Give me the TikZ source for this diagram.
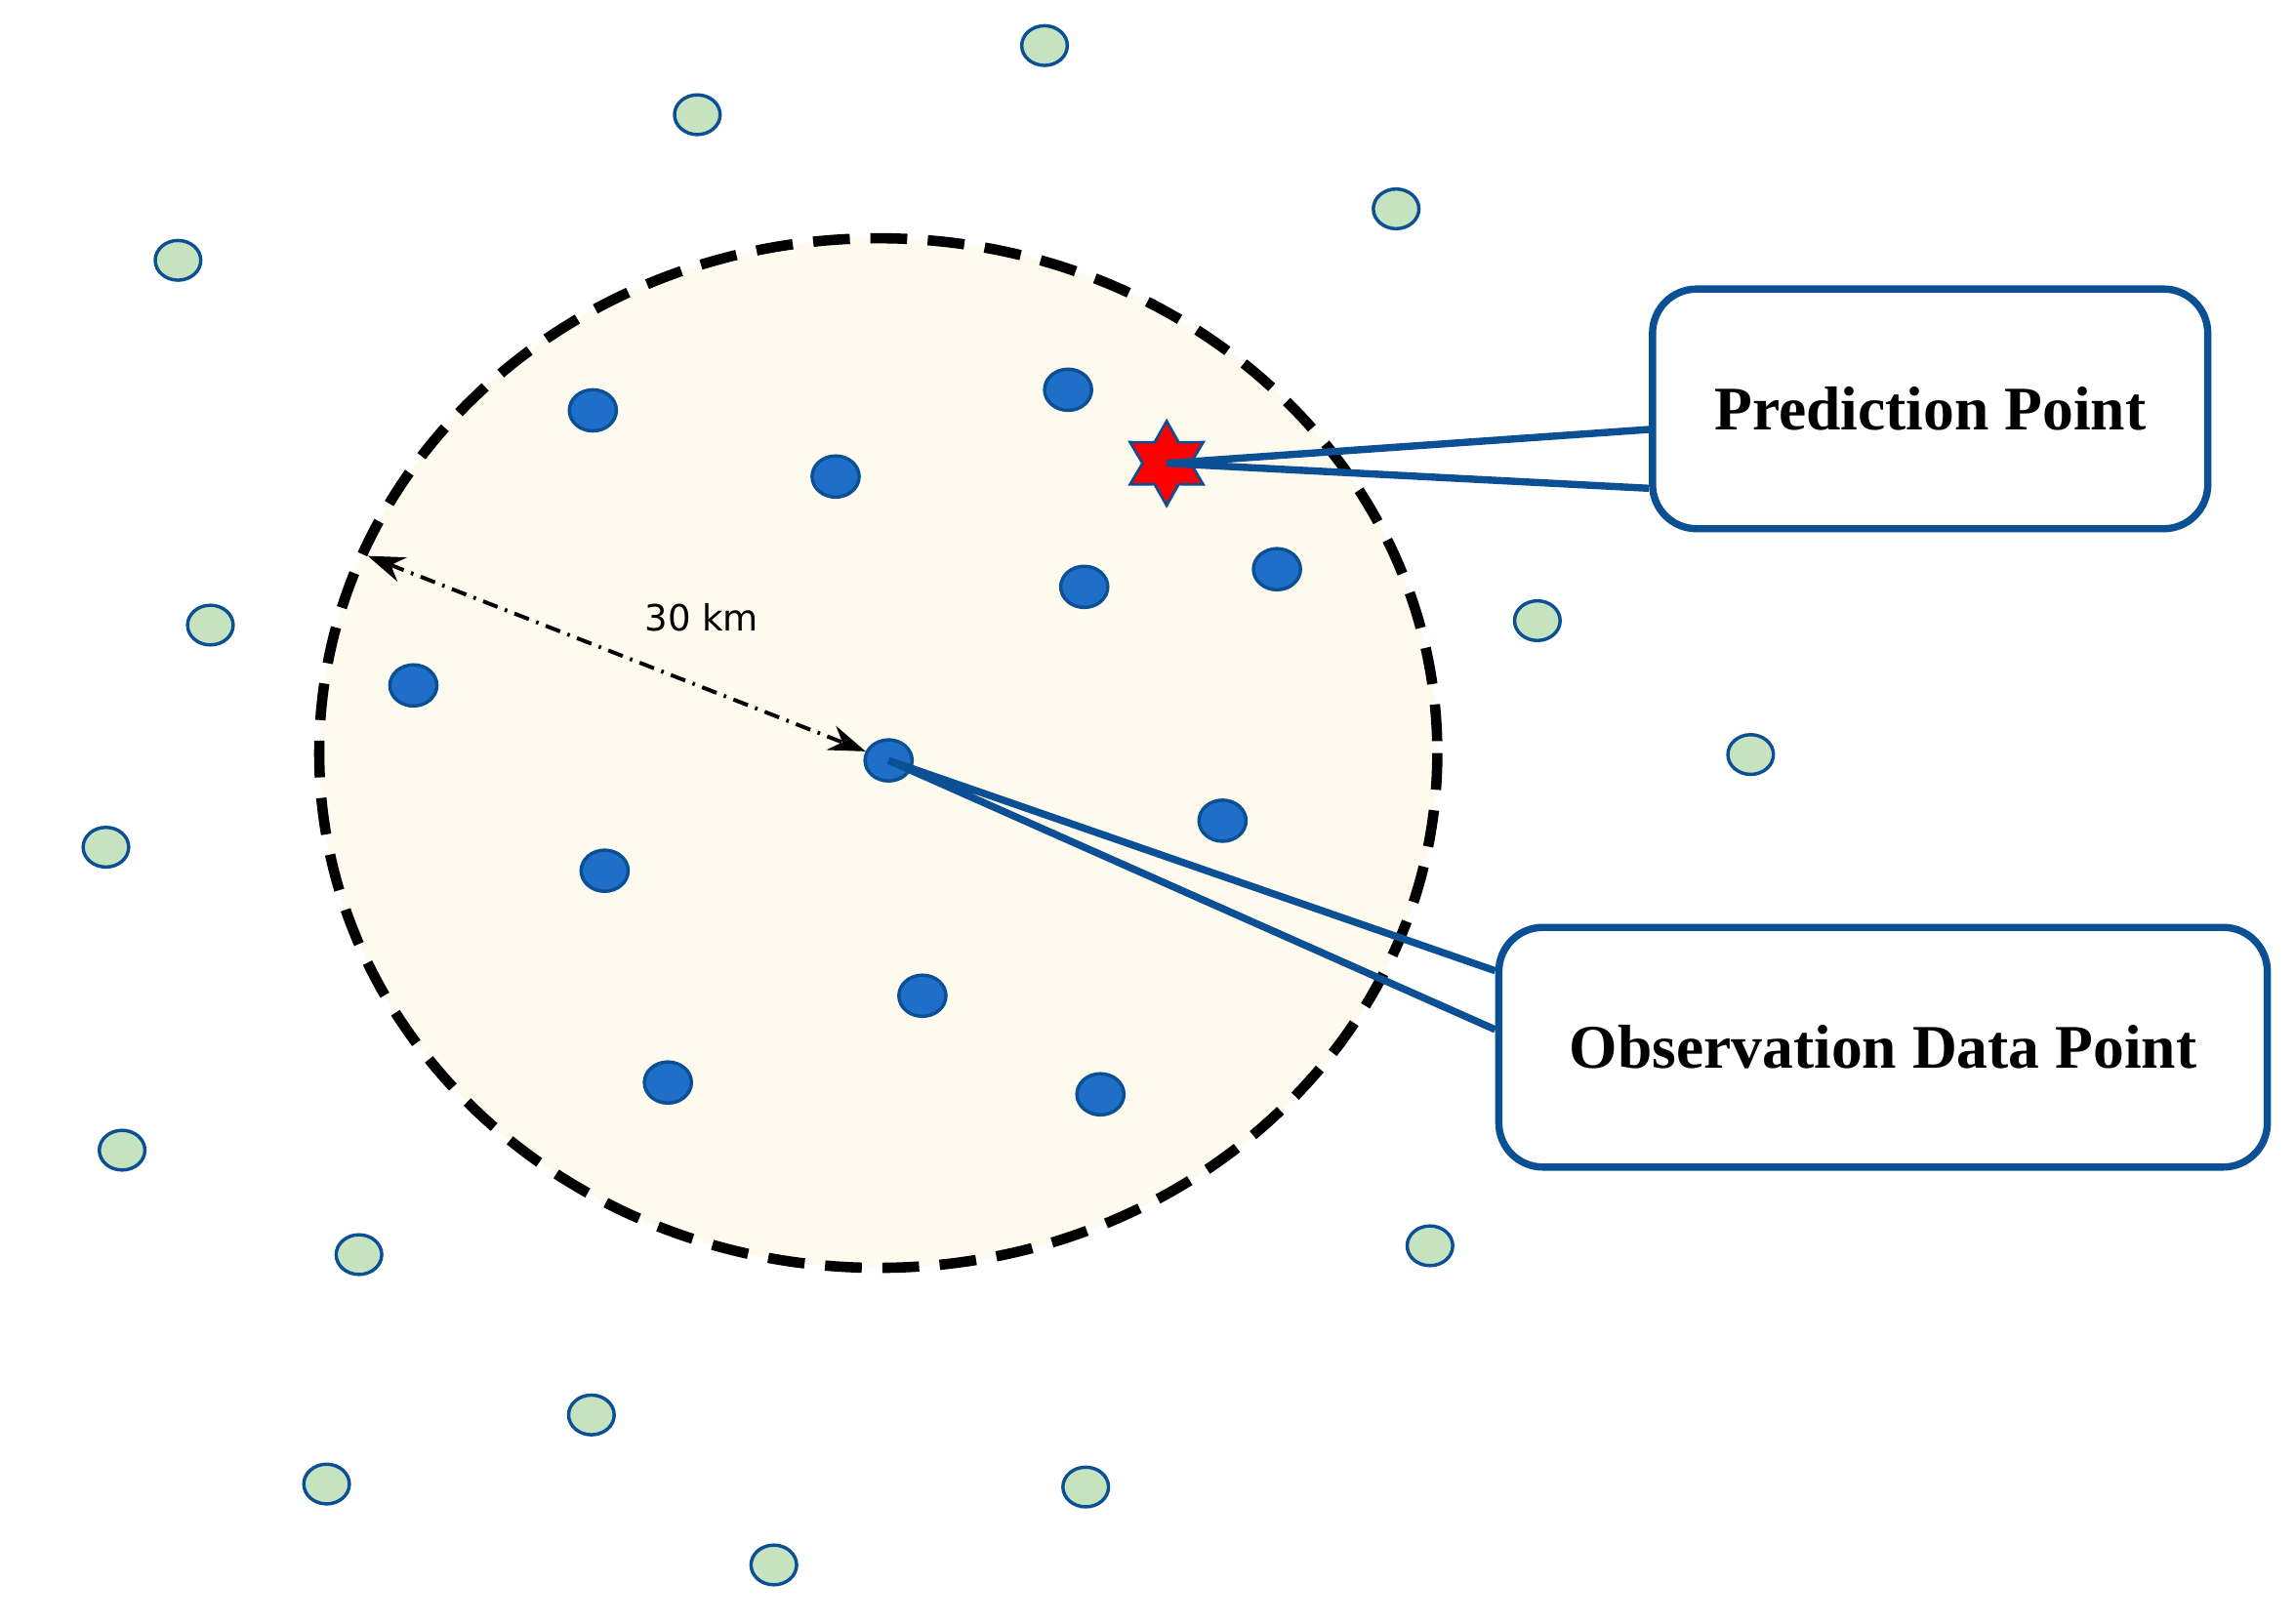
\documentclass[tikz,border=0pt]{standalone}
\usepackage{fontspec}
\setmainfont{Liberation Serif}
\newfontfamily\sansf{DejaVu Sans}
\usetikzlibrary{shapes.geometric,arrows.meta,calc}
\definecolor{bdot}{HTML}{1F6FC8}
\definecolor{bline}{HTML}{0B4F94}
\definecolor{gdot}{HTML}{C6E3BF}
\definecolor{cream}{HTML}{FEFAEE}
\begin{document}
\begin{tikzpicture}[x=0.02cm,y=-0.02cm,
 obs/.style={ellipse,draw=bline,line width=1.3pt,fill=bdot,minimum width=0.64cm,minimum height=0.56cm,inner sep=0},
 oth/.style={ellipse,draw=bline,line width=1.3pt,fill=gdot,minimum width=0.62cm,minimum height=0.54cm,inner sep=0},
 box/.style={draw=bline,line width=2.8pt,rounded corners=0.6cm,fill=white,font=\bfseries\fontsize{24}{28}\selectfont},
 ptr/.style={draw=bline,line width=2.8pt}]
\useasboundingbox (0,0) rectangle (1560,1104);
\draw[fill=cream,line width=4pt,dash pattern=on 0.5cm off 0.28cm] (597,512) ellipse [x radius=380,y radius=350];
\foreach \x/\y [count=\i] in {710/31,474/78,121/177,949/142,143/425,1045/422,1190/513,72/576,83/782,244/853,972/847,402/962,222/1009,738/1011,526/1064}
 \node[oth] (g\i) at (\x,\y) {};
\foreach \x/\y [count=\i] in {403/279,568/324,726/265,737/399,868/387,281/466,831/558,411/592,627/677,454/736,748/744}
 \node[obs] (b\i) at (\x,\y) {};
\node[obs] (c) at (604,517) {};
\coordinate (edge) at (250,378);
\draw[line width=1.5pt,dash pattern=on 6pt off 3pt on 1pt off 3pt,{Stealth[length=0.5cm,width=0.35cm]}-{Stealth[length=0.5cm,width=0.35cm]}] (edge) -- (c);
\node[font=\sansf\fontsize{14}{16}\selectfont] (lab) at (477,420) {30 km};
\node[box,minimum width=7.55cm,minimum height=3.26cm] (pp) at (1312,278) {Prediction Point};
\node[box,minimum width=10.45cm,minimum height=3.26cm] (op) at (1280,712) {Observation Data Point};
\node[star,star points=6,star point ratio=1.75,minimum size=1.15cm,inner sep=0,fill=red,draw=bline,line width=1pt] (s) at (793,315) {};
\draw[ptr] ($(pp.west)+(0,-0.28cm)$) -- (s.center) -- ($(pp.west)+(0,-1.08cm)$);
\draw[ptr] ($(op.west)+(0,1.04cm)$) -- (c.center) -- ($(op.west)+(0,0.24cm)$);
\end{tikzpicture}
\end{document}
